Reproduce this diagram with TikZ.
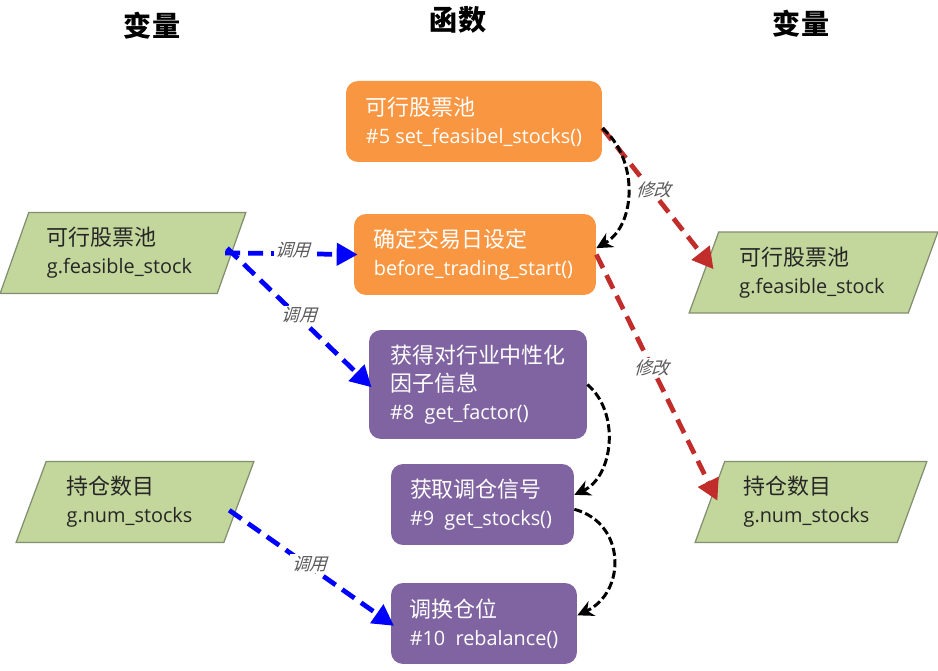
\documentclass[tikz,border=0pt]{standalone}
\usepackage{fontspec}
\setmainfont{Open Sans}
\newfontfamily\cjk{Noto Sans CJK SC}
\newfontfamily\cjkslant[FakeSlant=0.3]{Noto Sans CJK SC}
\newcommand{\cjkline}[1]{{\cjk\fontsize{12.5}{15.9}\selectfont #1}}
\usepackage{tikz}
\usetikzlibrary{shapes.geometric, arrows.meta}
\usepackage{xcolor}
\definecolor{orangecolor}{RGB}{249,150,66}
\definecolor{purplecolor}{RGB}{128,100,162}
\definecolor{greencolor}{RGB}{195,214,155}
\definecolor{greenborder}{RGB}{130,142,112}
\definecolor{callcolor}{RGB}{0,0,255}
\definecolor{writecolor}{RGB}{192,45,42}
\definecolor{labelcolor}{RGB}{90,90,90}

\begin{document}
\begin{tikzpicture}[x=0.02cm, y=-0.02cm]
  \tikzset{
    func/.style={
      draw=none,
      rounded corners=0.24cm,
      minimum height=1.62cm,
      align=left,
      text=white,
      inner sep=0pt,
      font=\fontsize{11.3}{15.9}\selectfont
    },
    orangefunc/.style={func, fill=orangecolor},
    purplefunc/.style={func, fill=purplecolor},
    varbox/.style={
      trapezium,
      trapezium stretches=true,
      trapezium left angle=65.7,
      trapezium right angle=114.3,
      draw=greenborder,
      fill=greencolor,
      line width=0.7pt,
      minimum height=1.62cm,
      align=left,
      text=black!85,
      inner sep=0pt,
      font=\fontsize{11.3}{15.9}\selectfont
    },
    heading/.style={
      font=\cjk\bfseries\fontsize{16}{18}\selectfont,
      text=black
    },
    edgelabel/.style={
      font=\cjkslant\fontsize{10}{12}\selectfont,
      text=labelcolor,
      fill=white,
      inner sep=1pt
    },
    callarrow/.style={
      draw=callcolor,
      line width=2.7pt,
      dash pattern=on 0.3cm off 0.16cm,
      -{Triangle[length=0.42cm, width=0.44cm]},
      shorten >=-0.08cm,
      shorten <=-0.14cm
    },
    changearrow/.style={
      draw=writecolor,
      line width=2.7pt,
      dash pattern=on 0.3cm off 0.16cm,
      -{Triangle[length=0.42cm, width=0.44cm]},
      shorten >=-0.2cm
    },
    orderarrow/.style={
      draw=black,
      line width=1.7pt,
      dash pattern=on 0.16cm off 0.07cm,
      -{Stealth[length=0.32cm, width=0.32cm]}
    }
  }

  \useasboundingbox (0,0) rectangle (938,671);

  % Draw the headings
  \node[heading] at (152,26) (headleft) {变量};
  \node[heading] at (458,20) (headmid) {函数};
  \node[heading] at (801,24) (headright) {变量};

  % Draw the functions
  \node[orangefunc, minimum width=5.12cm] at (474,121.5) (feasible) {\cjkline{可行股票池}\\\#5 set\_feasibel\_stocks()};
  \node[orangefunc, minimum width=4.84cm] at (475,254.5) (before) {\cjkline{确定交易日设定}\\before\_trading\_start()\kern0.06cm};
  \node[purplefunc, minimum width=4.36cm, minimum height=2.18cm] at (478,384.5) (factor) {\cjkline{获得对行业中性化}\\\cjkline{因子信息}\\\#8~~get\_factor()};
  \node[purplefunc, minimum width=3.66cm] at (482.5,504.5) (stocks) {\cjkline{获取调仓信号}\\\#9~~get\_stocks()\kern0.06cm};
  \node[purplefunc, minimum width=3.72cm] at (484,623.5) (rebalance) {\cjkline{调换仓位}\\\#10~~rebalance()};

  % Draw the variables
  \node[varbox, minimum width=4.92cm] at (123,253) (poolleft) {\cjkline{可行股票池}\\g.feasible\_stock\kern0.14cm};
  \node[varbox, minimum width=4.76cm] at (135,502) (numleft) {\cjkline{持仓数目}\\g.num\_stocks\kern0.22cm};
  \node[varbox, minimum width=4.98cm] at (813.5,272.5) (poolright) {\cjkline{可行股票池}\\g.feasible\_stock\kern0.06cm};
  \node[varbox, minimum width=4.64cm] at (811,502) (numright) {\cjkline{持仓数目}\\g.num\_stocks\kern0.18cm};

  % Calls from the variables
  \draw[callarrow] (poolleft.east) -- node[edgelabel, pos=0.5, yshift=0.08cm] (calla) {调用} (before.west);
  \draw[callarrow] (poolleft.east) -- node[edgelabel, pos=0.49, yshift=0.04cm] (callb) {调用} (factor.west);
  \draw[callarrow] (numleft.-7) -- node[edgelabel, pos=0.48, yshift=0.06cm] (callc) {调用} (rebalance.west);

  % Changes to the variables
  \draw[changearrow] (feasible.-3) -- node[edgelabel, pos=0.49, yshift=0.08cm] (changea) {修改} (poolright.174);
  \draw[changearrow] (before.east) -- node[edgelabel, pos=0.476] (changeb) {修改} (numright.174);

  % Order of the functions
  \draw[orderarrow] (feasible.-3) to[out=-40, in=30] (before.3);
  \draw[orderarrow] (factor.east) to[out=-40, in=25] (stocks.6);
  \draw[orderarrow] (stocks.-3) to[out=-15, in=25, looseness=1.3] (rebalance.5);
\end{tikzpicture}
\end{document}
